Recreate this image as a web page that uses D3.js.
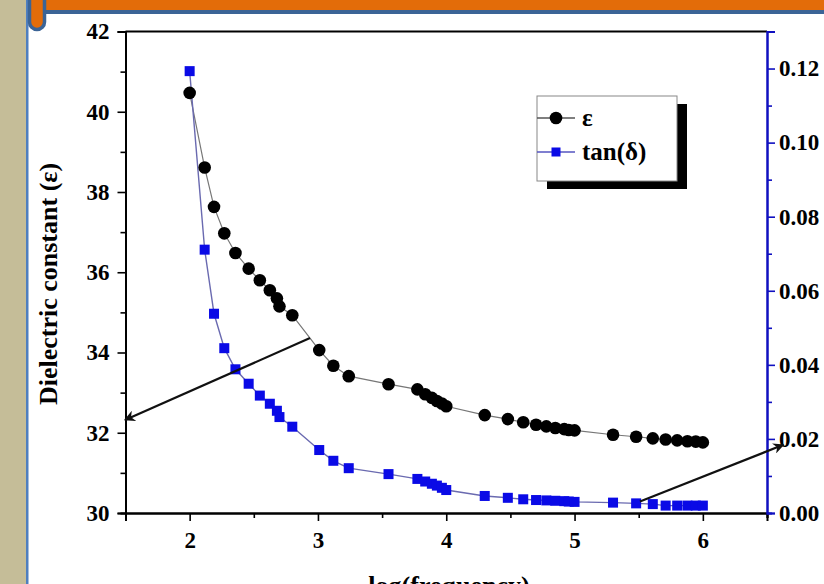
<!DOCTYPE html>
<html>
<head>
<meta charset="utf-8">
<script src="https://cdn.jsdelivr.net/npm/d3@7"></script>
<style>
  body { margin: 0; background: #fff; }
  svg { display: block; }
  text { font-family: "Liberation Serif", "DejaVu Serif", serif; font-weight: bold; }
</style>
</head>
<body>
<svg id="chart" width="824" height="584"></svg>
<script>
// log(frequency) values shared by both series
const logFreq = [2.0, 2.117, 2.19, 2.27, 2.357, 2.46, 2.547, 2.625, 2.68, 2.70, 2.80,
  3.01, 3.12, 3.24, 3.55, 3.775, 3.836, 3.888, 3.927, 3.966, 4.0,
  4.30, 4.48, 4.60, 4.70, 4.78, 4.85, 4.92, 4.955, 5.0,
  5.30, 5.48, 5.61, 5.71, 5.80, 5.88, 5.945, 6.0];
const epsilon = [40.47, 38.61, 37.63, 36.97, 36.48, 36.09, 35.80, 35.55, 35.35, 35.15, 34.93,
  34.06, 33.67, 33.41, 33.21, 33.08, 32.96, 32.87, 32.79, 32.73, 32.66,
  32.44, 32.34, 32.26, 32.20, 32.16, 32.12, 32.09, 32.07, 32.06,
  31.95, 31.90, 31.86, 31.83, 31.81, 31.79, 31.78, 31.76];
const tanDelta = [0.1193, 0.0711, 0.0538, 0.0445, 0.0388, 0.0349, 0.0317, 0.0295, 0.0276, 0.0259, 0.0233,
  0.0170, 0.0141, 0.0121, 0.0105, 0.0092, 0.0085, 0.0079, 0.0074, 0.0068, 0.0062,
  0.0046, 0.0041, 0.0037, 0.0035, 0.0034, 0.0033, 0.0032, 0.0031, 0.0030,
  0.0028, 0.0026, 0.0024, 0.0020, 0.0020, 0.0020, 0.0020, 0.0020];

const xTicks = [2, 3, 4, 5, 6];
const xMinor = [1.5, 2.5, 3.5, 4.5, 5.5, 6.5];
const leftTicks = [30, 32, 34, 36, 38, 40, 42];
const leftMinor = [31, 33, 35, 37, 39, 41];
const rightTicks = [0, 0.02, 0.04, 0.06, 0.08, 0.10, 0.12];
const rightMinor = [0.01, 0.03, 0.05, 0.07, 0.09, 0.11];

const legendItems = ["ε", "tan(δ)"];
// annotation arrows in data units: [x0, y0, x1, y1]
const arrowEps = [2.938, 34.36, 1.496, 32.32];
const arrowTan = [5.51, 0.0031, 6.627, 0.0184];

const svg = d3.select("#chart");

// slide frame
svg.append("rect").attr("x", 0).attr("y", 0).attr("width", 26).attr("height", 584).attr("fill", "#c5bd98");
svg.append("rect").attr("x", 26).attr("y", 0).attr("width", 2.5).attr("height", 584).attr("fill", "#4f7fbf");
svg.append("rect").attr("x", 28).attr("y", 0).attr("width", 796).attr("height", 10).attr("fill", "#e36c09");
svg.append("rect").attr("x", 28).attr("y", 10).attr("width", 796).attr("height", 4).attr("fill", "#3b6496");
svg.append("path")
  .attr("d", "M29.5,0 L29.5,22 A7.5,7.5 0 0 0 44.5,22 L44.5,0")
  .attr("fill", "#e36c09").attr("stroke", "#3b6496").attr("stroke-width", 3.5);

const plotL = 125.5, plotR = 767, plotT = 31.5, plotB = 513;
const x = d3.scaleLinear().domain([1.5, 6.5]).range([plotL, plotR]);
const yL = d3.scaleLinear().domain([30, 42]).range([plotB, plotT]);
const yR = d3.scaleLinear().domain([0, 0.13]).range([plotB, plotT]);

function styleAxis(g, color) {
  g.select(".domain").attr("stroke", color).attr("stroke-width", 2);
  g.selectAll(".tick line").attr("stroke", color).attr("stroke-width", 1.6);
  g.selectAll("text").attr("fill", "#000").attr("font-size", 23);
}

// top frame line
svg.append("line").attr("x1", plotL).attr("x2", plotR).attr("y1", plotT).attr("y2", plotT)
  .attr("stroke", "#000").attr("stroke-width", 2);

// bottom axis
svg.append("g").attr("transform", `translate(0,${plotB})`)
  .call(d3.axisBottom(x).tickValues(xMinor).tickSize(5).tickFormat(""))
  .call(g => styleAxis(g, "#000"));
svg.append("g").attr("transform", `translate(0,${plotB})`)
  .call(d3.axisBottom(x).tickValues(xTicks).tickSize(8).tickPadding(11).tickFormat(d3.format("d")))
  .call(g => styleAxis(g, "#000"));

// left axis
svg.append("g").attr("transform", `translate(${plotL},0)`)
  .call(d3.axisLeft(yL).tickValues(leftMinor).tickSize(5).tickFormat(""))
  .call(g => styleAxis(g, "#000"));
svg.append("g").attr("transform", `translate(${plotL},0)`)
  .call(d3.axisLeft(yL).tickValues(leftTicks).tickSize(8).tickPadding(8).tickFormat(d3.format("d")))
  .call(g => styleAxis(g, "#000"));

// right axis
svg.append("g").attr("transform", `translate(${plotR},0)`)
  .call(d3.axisRight(yR).tickValues(rightMinor).tickSize(5).tickFormat(""))
  .call(g => styleAxis(g, "#1010c0"));
svg.append("g").attr("transform", `translate(${plotR},0)`)
  .call(d3.axisRight(yR).tickValues(rightTicks).tickSize(8).tickPadding(4).tickFormat(d3.format(".2f")))
  .call(g => styleAxis(g, "#1010c0"));

// axis titles
svg.append("text")
  .attr("transform", "translate(57,284) rotate(-90)")
  .attr("text-anchor", "middle").attr("font-size", 26)
  .text("Dielectric constant (ε)");
svg.append("text")
  .attr("x", 449).attr("y", 594).attr("text-anchor", "middle").attr("font-size", 26)
  .text("log(frequency)");

const epsData = logFreq.map((f, i) => [f, epsilon[i]]);
const tanData = logFreq.map((f, i) => [f, tanDelta[i]]);

svg.append("path").datum(epsData)
  .attr("fill", "none").attr("stroke", "#777").attr("stroke-width", 1.2)
  .attr("d", d3.line().x(d => x(d[0])).y(d => yL(d[1])));
svg.append("path").datum(tanData)
  .attr("fill", "none").attr("stroke", "#6a6ab0").attr("stroke-width", 1.4)
  .attr("d", d3.line().x(d => x(d[0])).y(d => yR(d[1])));

svg.append("g").selectAll("circle").data(epsData).join("circle")
  .attr("cx", d => x(d[0])).attr("cy", d => yL(d[1])).attr("r", 6.3).attr("fill", "#000");
svg.append("g").selectAll("rect").data(tanData).join("rect")
  .attr("x", d => x(d[0]) - 5).attr("y", d => yR(d[1]) - 5)
  .attr("width", 10).attr("height", 10).attr("fill", "#0a0ae6");

// arrows
svg.append("defs").append("marker")
  .attr("id", "head").attr("viewBox", "0 0 10 10").attr("refX", 9).attr("refY", 5)
  .attr("markerWidth", 7).attr("markerHeight", 5).attr("orient", "auto")
  .append("path").attr("d", "M0,0 L10,5 L0,10 L3,5 Z").attr("fill", "#111");
svg.append("line")
  .attr("x1", x(arrowEps[0])).attr("y1", yL(arrowEps[1]))
  .attr("x2", x(arrowEps[2])).attr("y2", yL(arrowEps[3]))
  .attr("stroke", "#111").attr("stroke-width", 2.2).attr("marker-end", "url(#head)");
svg.append("line")
  .attr("x1", x(arrowTan[0])).attr("y1", yR(arrowTan[1]))
  .attr("x2", x(arrowTan[2])).attr("y2", yR(arrowTan[3]))
  .attr("stroke", "#111").attr("stroke-width", 2.2).attr("marker-end", "url(#head)");

// legend
const lg = svg.append("g").attr("transform", "translate(537,96)");
lg.append("rect").attr("x", 10).attr("y", 8).attr("width", 140).attr("height", 85).attr("fill", "#000");
lg.append("rect").attr("x", 0).attr("y", 0).attr("width", 140).attr("height", 85)
  .attr("fill", "#fff").attr("stroke", "#888").attr("stroke-width", 1);
legendItems.forEach((name, i) => {
  const yy = 22 + i * 34;
  lg.append("line").attr("x1", 0).attr("x2", 38).attr("y1", yy).attr("y2", yy)
    .attr("stroke", i === 0 ? "#555" : "#5555c0").attr("stroke-width", 1.3);
  if (i === 0) {
    lg.append("circle").attr("cx", 19).attr("cy", yy).attr("r", 6.3).attr("fill", "#000");
  } else {
    lg.append("rect").attr("x", 14.5).attr("y", yy - 4.5).attr("width", 9).attr("height", 9).attr("fill", "#0a0ae6");
  }
  lg.append("text").attr("x", 45).attr("y", yy + 8).attr("font-size", 25).text(name);
});
</script>
</body>
</html>
